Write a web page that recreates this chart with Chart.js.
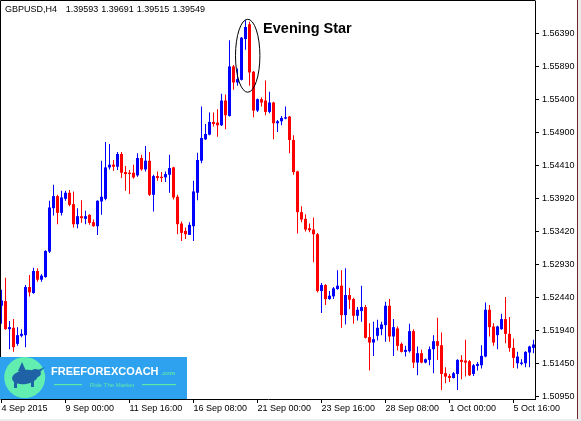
<!DOCTYPE html>
<html><head><meta charset="utf-8">
<script src="https://cdn.jsdelivr.net/npm/chart.js@4.4.1/dist/chart.umd.min.js"></script>
<style>html,body{margin:0;padding:0;background:#fff;overflow:hidden}#wrap{position:relative;width:581px;height:421px}</style>
</head><body><div id="wrap"><canvas id="c" width="581" height="421"></canvas></div>
<script>
// GBPUSD H4 candles (one per 4-hour bar)
const openP = [1.5231,1.5238,1.5196,1.5198,1.5174,1.5186,1.5187,1.5259,1.5250,1.5283,
 1.5270,1.5274,1.5312,1.5377,1.5395,1.5370,1.5391,1.5400,1.5383,1.5353,
 1.5365,1.5361,1.5367,1.5356,1.5350,1.5387,1.5391,1.5438,1.5442,1.5439,
 1.5458,1.5431,1.5430,1.5430,1.5426,1.5452,1.5435,1.5448,1.5397,1.5425,
 1.5424,1.5423,1.5427,1.5438,1.5394,1.5354,1.5343,1.5337,1.5350,1.5400,
 1.5448,1.5480,1.5487,1.5506,1.5505,1.5501,1.5538,1.5515,1.5589,1.5565,
 1.5569,1.5630,1.5652,1.5581,1.5523,1.5540,1.5538,1.5521,1.5535,1.5504,
 1.5507,1.5511,1.5514,1.5479,1.5432,1.5371,1.5361,1.5347,1.5345,1.5338,
 1.5253,1.5262,1.5241,1.5245,1.5256,1.5261,1.5217,1.5247,1.5241,1.5216,
 1.5223,1.5229,1.5184,1.5176,1.5186,1.5196,1.5202,1.5231,1.5185,1.5197,
 1.5174,1.5162,1.5163,1.5193,1.5146,1.5160,1.5146,1.5150,1.5166,1.5178,
 1.5172,1.5130,1.5126,1.5123,1.5129,1.5150,1.5149,1.5148,1.5129,1.5141,
 1.5142,1.5155,1.5225,1.5200,1.5187,1.5196,1.5211,1.5189,1.5168,1.5145,
 1.5144,1.5145,1.5161,1.5168];
const highP = [1.5255,1.5273,1.5208,1.5211,1.5199,1.5196,1.5262,1.5277,1.5288,1.5287,
 1.5278,1.5314,1.5388,1.5412,1.5397,1.5403,1.5403,1.5404,1.5402,1.5377,
 1.5389,1.5373,1.5368,1.5360,1.5389,1.5448,1.5476,1.5473,1.5449,1.5461,
 1.5461,1.5440,1.5434,1.5442,1.5459,1.5457,1.5470,1.5461,1.5427,1.5432,
 1.5431,1.5432,1.5457,1.5439,1.5397,1.5357,1.5348,1.5356,1.5418,1.5460,
 1.5529,1.5503,1.5520,1.5520,1.5525,1.5548,1.5547,1.5628,1.5591,1.5586,
 1.5633,1.5658,1.5656,1.5582,1.5541,1.5543,1.5568,1.5551,1.5536,1.5509,
 1.5515,1.5529,1.5515,1.5486,1.5433,1.5380,1.5368,1.5354,1.5363,1.5340,
 1.5265,1.5263,1.5253,1.5259,1.5284,1.5284,1.5287,1.5258,1.5243,1.5229,
 1.5261,1.5232,1.5205,1.5207,1.5210,1.5207,1.5237,1.5241,1.5211,1.5200,
 1.5176,1.5171,1.5204,1.5196,1.5170,1.5165,1.5152,1.5170,1.5187,1.5213,
 1.5191,1.5139,1.5129,1.5132,1.5151,1.5157,1.5180,1.5150,1.5144,1.5147,
 1.5172,1.5236,1.5232,1.5205,1.5201,1.5219,1.5244,1.5214,1.5182,1.5162,
 1.5151,1.5163,1.5171,1.5180];
const lowP = [1.5204,1.5195,1.5166,1.5162,1.5171,1.5184,1.5169,1.5245,1.5249,1.5267,
 1.5267,1.5273,1.5310,1.5366,1.5353,1.5366,1.5388,1.5380,1.5348,1.5347,
 1.5355,1.5353,1.5352,1.5349,1.5337,1.5367,1.5389,1.5435,1.5433,1.5434,
 1.5422,1.5403,1.5398,1.5421,1.5424,1.5433,1.5432,1.5395,1.5372,1.5418,
 1.5416,1.5416,1.5400,1.5390,1.5338,1.5328,1.5331,1.5337,1.5328,1.5389,
 1.5444,1.5479,1.5486,1.5499,1.5484,1.5500,1.5495,1.5514,1.5554,1.5560,
 1.5568,1.5614,1.5560,1.5513,1.5521,1.5529,1.5516,1.5519,1.5480,1.5491,
 1.5501,1.5510,1.5459,1.5427,1.5339,1.5356,1.5342,1.5341,1.5296,1.5251,
 1.5220,1.5232,1.5240,1.5241,1.5255,1.5198,1.5203,1.5226,1.5204,1.5209,
 1.5207,1.5182,1.5134,1.5156,1.5179,1.5187,1.5177,1.5177,1.5156,1.5164,
 1.5161,1.5155,1.5161,1.5138,1.5127,1.5145,1.5145,1.5142,1.5130,1.5150,
 1.5105,1.5115,1.5117,1.5122,1.5105,1.5121,1.5125,1.5126,1.5126,1.5134,
 1.5137,1.5154,1.5185,1.5171,1.5166,1.5195,1.5175,1.5162,1.5138,1.5137,
 1.5142,1.5139,1.5139,1.5160];
const closeP = [1.5239,1.5196,1.5199,1.5169,1.5187,1.5189,1.5259,1.5251,1.5283,1.5270,
 1.5276,1.5313,1.5378,1.5395,1.5370,1.5393,1.5400,1.5382,1.5353,1.5365,
 1.5362,1.5365,1.5355,1.5350,1.5388,1.5394,1.5438,1.5442,1.5439,1.5458,
 1.5430,1.5428,1.5428,1.5423,1.5452,1.5435,1.5448,1.5397,1.5425,1.5422,
 1.5422,1.5428,1.5437,1.5393,1.5353,1.5340,1.5338,1.5352,1.5402,1.5449,
 1.5482,1.5488,1.5506,1.5503,1.5501,1.5538,1.5516,1.5589,1.5565,1.5570,
 1.5632,1.5648,1.5580,1.5523,1.5540,1.5535,1.5521,1.5535,1.5504,1.5507,
 1.5512,1.5513,1.5479,1.5431,1.5371,1.5360,1.5345,1.5344,1.5338,1.5253,
 1.5262,1.5241,1.5246,1.5257,1.5261,1.5217,1.5247,1.5240,1.5216,1.5225,
 1.5229,1.5183,1.5176,1.5181,1.5198,1.5203,1.5231,1.5185,1.5199,1.5171,
 1.5162,1.5165,1.5193,1.5146,1.5160,1.5146,1.5151,1.5166,1.5178,1.5171,
 1.5129,1.5125,1.5123,1.5130,1.5150,1.5147,1.5146,1.5127,1.5142,1.5144,
 1.5156,1.5225,1.5199,1.5176,1.5200,1.5211,1.5189,1.5168,1.5153,1.5155,
 1.5146,1.5162,1.5170,1.5173];

const yTickValues = [1.56390,1.55890,1.55400,1.54900,1.54410,1.53920,1.53420,1.52930,1.52440,1.51940,1.51450,1.50950];
const xTickIndex = [0,16,32,48,64,80,96,112,128];
const xTickLabels = ['4 Sep 2015','9 Sep 00:00','11 Sep 16:00','16 Sep 08:00','21 Sep 00:00','23 Sep 16:00','28 Sep 08:00','1 Oct 00:00','5 Oct 16:00'];
const titleParts = ['GBPUSD,H4','1.39593','1.39691','1.39515','1.39549'];
const annotationText = 'Evening Star';
// ellipse around the evening-star candles (bar index / price units)
const starCenterIndex = 61.55, starCenterPrice = 1.5605, starHalfBars = 3.05, starHalfPrice = 0.00546;
const starTextIndex = 65.4, starTextPrice = 1.5639;

const UP = '#0000ff', DOWN = '#ff0000';
const barIndex = openP.map((_, i) => i);
const colors = barIndex.map(i => closeP[i] >= openP[i] ? UP : DOWN);
const FONT = 'Liberation Sans, Arial, sans-serif';

const decor = {
  id: 'decor',
  beforeDraw(chart) {
    const c = chart.ctx;
    c.save(); c.fillStyle = '#fff'; c.fillRect(0, 0, chart.width, chart.height); c.restore();
  },
  afterDraw(chart) {
    const c = chart.ctx, a = chart.chartArea, xs = chart.scales.x, ys = chart.scales.y;
    c.save();
    c.strokeStyle = '#000'; c.lineWidth = 1;
    c.beginPath(); c.moveTo(0.5, a.bottom + 0.5); c.lineTo(0.5, 0.5); c.lineTo(a.right + 0.5, 0.5); c.stroke();
    // title
    c.fillStyle = '#000'; c.font = '9px ' + FONT; c.textBaseline = 'alphabetic'; c.textAlign = 'left';
    const tx = [5, 65.7, 101.2, 136.7, 172.5];
    titleParts.forEach((t, k) => c.fillText(t, tx[k], 12));
    // ellipse
    const cx = xs.getPixelForValue(starCenterIndex), cy = ys.getPixelForValue(starCenterPrice);
    const rx = Math.abs(xs.getPixelForValue(starCenterIndex + starHalfBars) - cx);
    const ry = Math.abs(ys.getPixelForValue(starCenterPrice + starHalfPrice) - cy);
    c.beginPath(); c.ellipse(cx, cy, rx, ry, 0, 0, Math.PI * 2); c.strokeStyle = '#000'; c.lineWidth = 1; c.stroke();
    c.font = 'bold 14.5px ' + FONT; c.fillStyle = '#000';
    c.fillText(annotationText, xs.getPixelForValue(starTextIndex), ys.getPixelForValue(starTextPrice));
    // logo
    c.fillStyle = '#2ea2ee'; c.fillRect(0, 357, 187, 42);
    c.fillStyle = '#62eeb0'; c.beginPath(); c.arc(24.7, 377.5, 20.5, 0, Math.PI * 2); c.fill();
    c.fillStyle = '#1f63a6';
    c.beginPath(); c.ellipse(25, 377, 13, 7, -0.15, 0, Math.PI * 2); c.fill();
    c.beginPath(); c.ellipse(36, 373, 5, 4, 0.3, 0, Math.PI * 2); c.fill();
    c.fillRect(14, 380, 3, 8); c.fillRect(31, 380, 3, 7);
    c.beginPath(); c.moveTo(38, 370); c.lineTo(45, 367); c.lineTo(40, 372); c.fill();
    c.beginPath(); c.moveTo(18, 371); c.lineTo(22, 362); c.lineTo(26, 371); c.fill();
    c.fillStyle = '#fff'; c.font = 'bold 11px ' + FONT; c.textBaseline = 'alphabetic';
    c.fillText('FREEFOREXCOACH', 51, 374.5);
    c.fillStyle = '#5fe8a8'; c.font = 'bold 6px ' + FONT; c.fillText('.com', 161, 374.5);
    c.font = '6px ' + FONT; c.textAlign = 'center'; c.fillText('Ride The Market', 112, 386.5);
    c.fillRect(54, 384, 28, 1.2); c.fillRect(142, 384, 34, 1.2);
    // window edges
    c.fillStyle = '#ececec'; c.fillRect(578, 0, 3, 421); c.fillRect(0, 419, 581, 2);
    c.fillStyle = '#6b2b2b'; c.fillRect(577, 0, 1, 419);
    c.restore();
  }
};

new Chart(document.getElementById('c'), {
  type: 'bar',
  data: {
    datasets: [
      { label: 'body', data: barIndex.map(i => ({ x: i, y: [openP[i], closeP[i]] })), backgroundColor: colors,
        barThickness: 3, grouped: false, inflateAmount: 0, borderWidth: 0, minBarLength: 1 },
      { label: 'wick', data: barIndex.map(i => ({ x: i, y: [lowP[i], highP[i]] })), backgroundColor: colors,
        barThickness: 1, grouped: false, inflateAmount: 0, borderWidth: 0 }
    ]
  },
  options: {
    responsive: false, animation: false, devicePixelRatio: 1,
    layout: { padding: { left: 1, top: 1, right: 0, bottom: 0 } },
    plugins: { legend: { display: false }, tooltip: { enabled: false } },
    scales: {
      x: {
        type: 'linear', min: -0.125, max: 133.375, offset: false,
        grid: { offset: false, drawOnChartArea: false, drawTicks: true, tickLength: 4, color: '#000' },
        border: { display: true, color: '#000', width: 1 },
        ticks: { autoSkip: false, maxRotation: 0, minRotation: 0, align: 'start', padding: 0, color: '#000',
          font: { family: FONT, size: 9 }, callback: (v, idx) => xTickLabels[idx] },
        afterBuildTicks: s => { s.ticks = xTickIndex.map(v => ({ value: v })); },
        afterFit: s => { s.height = 22; s.paddingLeft = 0; s.paddingRight = 0; s.paddingTop = 0; s.paddingBottom = 0; }
      },
      y: {
        type: 'linear', position: 'right', min: 1.50915, max: 1.56869,
        grid: { drawOnChartArea: false, drawTicks: true, tickLength: 4, color: '#000' },
        border: { display: true, color: '#000', width: 1 },
        ticks: { autoSkip: false, padding: 3, color: '#000', font: { family: FONT, size: 9 },
          callback: v => Number(v).toFixed(5) },
        afterBuildTicks: s => { s.ticks = yTickValues.map(v => ({ value: v })); },
        afterFit: s => { s.width = 46; s.paddingLeft = 0; s.paddingRight = 0; s.paddingTop = 0; s.paddingBottom = 0; }
      }
    }
  },
  plugins: [decor]
});
</script></body></html>
